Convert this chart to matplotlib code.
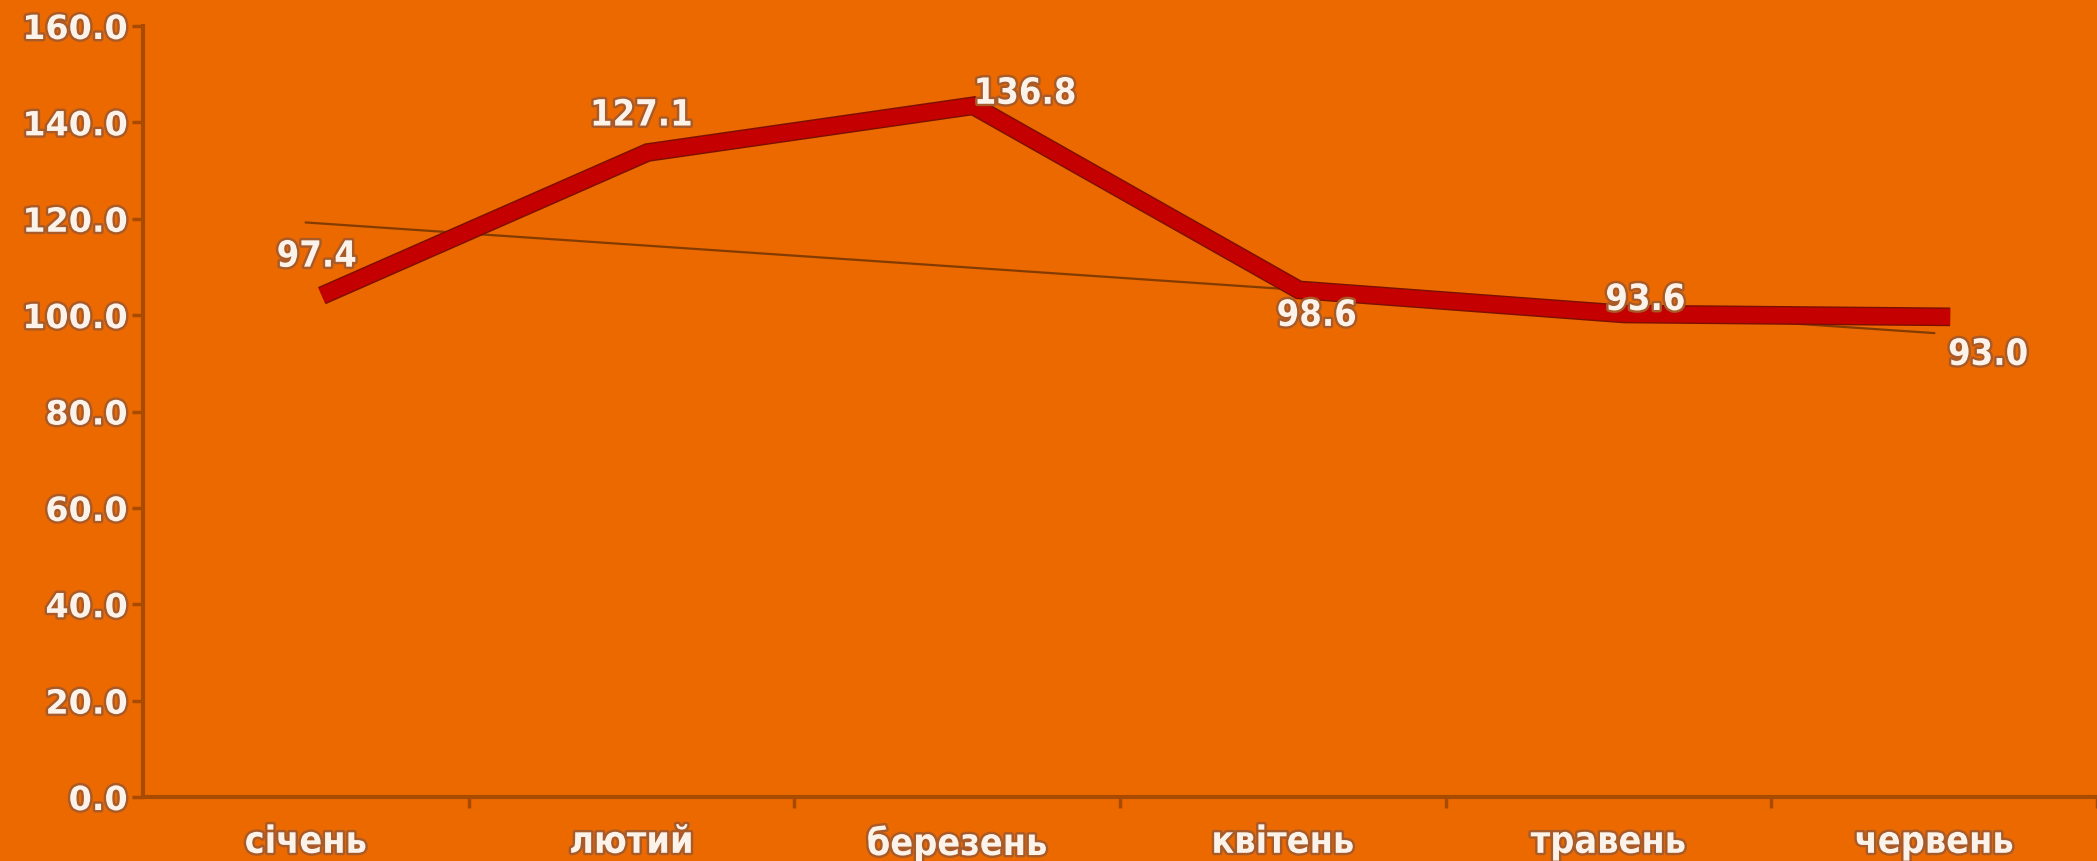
import numpy as np
import matplotlib.pyplot as plt
import matplotlib.patheffects as pe
from matplotlib import transforms

months = ["січень", "лютий", "березень", "квітень", "травень", "червень"]
values = [97.4, 127.1, 136.8, 98.6, 93.6, 93.0]
yticks = [0, 20, 40, 60, 80, 100, 120, 140, 160]

# label offsets in pixels from each point
label_dx = [11, 10, 68, 34, 37, 54]
label_dy = [71, 69, 44, 6, 46, -6]

bg = '#ec6900'
axis_col = '#a84a00'
txt_col = '#fbf3ea'
glow = [pe.withStroke(linewidth=3.5, foreground='#a85a28')]

fig = plt.figure(figsize=(20.97, 8.62), dpi=100)
fig.patch.set_facecolor(bg)
ax = fig.add_axes([0.0682, 0.0742, 0.9318, 0.8945])
ax.set_facecolor(bg)

x = np.arange(len(months))

# trend line (linear fit through the data)
k, b = np.polyfit(x, values, 1)
ax.plot(x, k * x + b, color='#6a3000', lw=1.6, alpha=0.8, zorder=2)

# thick "3d" line, drawn shifted up-right
shift = transforms.offset_copy(ax.transData, fig=fig, x=16, y=32, units='dots')
ax.plot(x, values, color='#c40000', lw=11.5, solid_joinstyle='miter',
        solid_capstyle='butt', transform=shift, zorder=3,
        path_effects=[pe.Stroke(linewidth=13.5, foreground='#7a1000'), pe.Normal()])

for i, v in enumerate(values):
    ax.annotate(f"{v:.1f}", (x[i], v), xytext=(label_dx[i], label_dy[i]),
                textcoords='offset pixels', ha='center', va='center',
                fontsize=26, color=txt_col, fontstretch='condensed',
                fontweight='bold', path_effects=glow, zorder=4)

ax.set_xlim(-0.5, 5.5)
ax.set_ylim(0, 160)
ax.set_yticks(yticks)
ax.set_yticklabels([f"{t:.1f}" for t in yticks])
ax.set_xticks(x)
ax.set_xticklabels(months)
ax.set_xticks(np.arange(0.5, 6, 1), minor=True)

ax.tick_params(axis='y', length=8, width=2.5, color=axis_col, pad=3,
               labelsize=24, labelcolor=txt_col)
ax.tick_params(axis='x', which='major', length=0, pad=20,
               labelsize=27, labelcolor=txt_col)
ax.tick_params(axis='x', which='minor', length=8, width=2.5, color=axis_col)
for lab in ax.get_yticklabels():
    lab.set_path_effects(glow)
    lab.set_fontweight('bold')
for lab in ax.get_xticklabels():
    lab.set_path_effects(glow)
    lab.set_fontweight('bold')
    lab.set_fontstretch('condensed')

for s in ['top', 'right']:
    ax.spines[s].set_visible(False)
for s in ['left', 'bottom']:
    ax.spines[s].set_color(axis_col)
    ax.spines[s].set_linewidth(3)

fig.savefig('out.png', dpi=100, facecolor=bg)
